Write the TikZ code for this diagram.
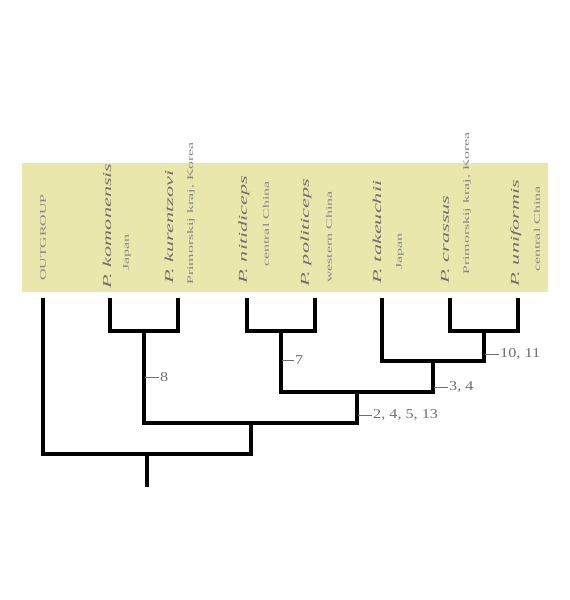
\documentclass[tikz,border=0pt]{standalone}
\usepackage{fontspec}
\setmainfont{Liberation Serif}
\usepackage{graphicx}
\usetikzlibrary{positioning}
\definecolor{panel}{RGB}{233,231,172}
\definecolor{labelgray}{RGB}{110,110,110}
\definecolor{placegray}{RGB}{135,135,135}
\newcommand{\longtext}[1]{\scalebox{1.85}[1]{#1}}
\newcommand{\widetext}[1]{\scalebox{1.2}[1]{#1}}
\tikzset{
    x={(1pt,0)}, y={(0,-1pt)}, % pixel-like coordinates, y downwards
    branch/.style={line width=3.2pt, line join=miter}, % the tree lines
    tick/.style={draw=labelgray, line width=0.8pt}, % short mark before a support label
    taxon/.style={rotate=90, anchor=west, inner sep=0pt, text=labelgray,
                  font=\fontsize{12}{12}\selectfont\itshape},
    place/.style={taxon, text=placegray, font=\fontsize{8.6}{9}\selectfont},
    support/.style={inner sep=1pt, text=labelgray, font=\fontsize{13.5}{13.5}\selectfont},
}
\begin{document}
\begin{tikzpicture}
    \useasboundingbox (0,0) rectangle (570,600);
    \fill[panel] (22,163) rectangle (548,292);

    % taxa
    \node[taxon, text=placegray, font=\fontsize{8.6}{9}\selectfont] (out) at (43,281) {\longtext{OUTGROUP}};
    \node[taxon] (komo) at (107,289) {\longtext{P. komonensis}};
    \node[place] (komoP) at (127,271) {\longtext{Japan}};
    \node[taxon] (kure) at (169,284) {\longtext{P. kurentzovi}};
    \node[place] (kureP) at (191,285) {\longtext{Primorskij kraj, Korea}};
    \node[taxon] (niti) at (244,284) {\longtext{P. nitidiceps}};
    \node[place] (nitiP) at (266,267) {\longtext{central China}};
    \node[taxon] (poli) at (306,287) {\longtext{P. politiceps}};
    \node[place] (poliP) at (329,283) {\longtext{western China}};
    \node[taxon] (take) at (377,284) {\longtext{P. takeuchii}};
    \node[place] (takeP) at (400,270) {\longtext{Japan}};
    \node[taxon] (cras) at (445,284) {\longtext{P. crassus}};
    \node[place] (crasP) at (467,275) {\longtext{Primorskij kraj, Korea}};
    \node[taxon] (unif) at (516,287) {\longtext{P. uniformis}};
    \node[place] (unifP) at (537,272) {\longtext{central China}};

    % tips and inner nodes
    \coordinate (outT) at (43,298);
    \coordinate (komoT) at (110,298);
    \coordinate (kureT) at (178,298);
    \coordinate (nitiT) at (247,298);
    \coordinate (poliT) at (315,298);
    \coordinate (takeT) at (382,298);
    \coordinate (crasT) at (450,298);
    \coordinate (unifT) at (518,298);
    \coordinate (nA) at (144,331);
    \coordinate (nB) at (281,331);
    \coordinate (nC) at (484,331);
    \coordinate (nD) at (433,361);
    \coordinate (nE) at (357,392);
    \coordinate (nF) at (251,423);
    \coordinate (nG) at (147,454);
    \coordinate (root) at (147,487);

    \draw[branch] (komoT) |- (nA) -| (kureT);
    \draw[branch] (nitiT) |- (nB) -| (poliT);
    \draw[branch] (crasT) |- (nC) -| (unifT);
    \draw[branch] (takeT) |- (nD) -| (nC);
    \draw[branch] (nB) |- (nE) -| (nD);
    \draw[branch] (nA) |- (nF) -| (nE);
    \draw[branch] (outT) |- (nG) -| (nF);
    \draw[branch] (nG) -- (root);

    % support labels
    \coordinate (k8) at (145,377);
    \coordinate (k7) at (282,360);
    \coordinate (k1011) at (485,354);
    \coordinate (k34) at (434,387);
    \coordinate (k2) at (358,415);
    \node[support, right=14pt of k8, anchor=west] (s8) {\widetext{8}};
    \node[support, right=12pt of k7, anchor=west] (s7) {\widetext{7}};
    \node[support, right=14pt of k1011, anchor=west] (s1011) {\widetext{10, 11}};
    \node[support, right=14pt of k34, anchor=west] (s34) {\widetext{3, 4}};
    \node[support, right=14pt of k2, anchor=west] (s2) {\widetext{2, 4, 5, 13}};
    \draw[tick] (k8) -- (s8);
    \draw[tick] (k7) -- (s7);
    \draw[tick] (k1011) -- (s1011);
    \draw[tick] (k34) -- (s34);
    \draw[tick] (k2) -- (s2);
\end{tikzpicture}
\end{document}
